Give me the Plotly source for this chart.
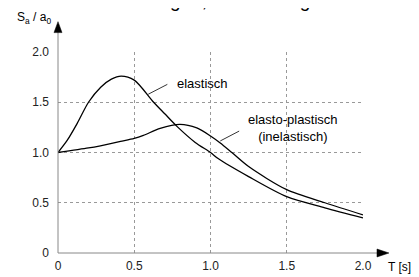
import plotly.graph_objects as go

# Data
T_elastic = [0.0, 0.06, 0.126, 0.2, 0.28, 0.35, 0.414, 0.5, 0.627, 0.7, 0.78, 0.9, 1.0, 1.05, 1.25, 1.5, 1.75, 2.0]
S_elastic = [1.0, 1.12, 1.29, 1.5, 1.65, 1.73, 1.76, 1.72, 1.50, 1.385, 1.26, 1.10, 1.0, 0.94, 0.76, 0.56, 0.45, 0.35]

T_inelastic = [0.0, 0.2, 0.278, 0.41, 0.5, 0.56, 0.67, 0.80, 0.91, 1.0, 1.064, 1.14, 1.25, 1.5, 1.75, 2.0]
S_inelastic = [1.0, 1.045, 1.067, 1.11, 1.14, 1.17, 1.24, 1.28, 1.245, 1.165, 1.095, 1.0, 0.86, 0.63, 0.50, 0.38]

x_ticks = [0, 0.5, 1.0, 1.5, 2.0]
x_tick_labels = ["0", "0.5", "1.0", "1.5", "2.0"]
y_ticks = [0, 0.5, 1.0, 1.5, 2.0]
y_tick_labels = ["0", "0.5", "1.0", "1.5", "2.0"]

FONT = "Liberation Sans, Arial, sans-serif"

fig = go.Figure()
fig.add_trace(go.Scatter(x=T_elastic, y=S_elastic, mode="lines",
                         line=dict(color="black", width=1.3, shape="spline", smoothing=0.8),
                         name="elastisch", showlegend=False, cliponaxis=False))
fig.add_trace(go.Scatter(x=T_inelastic, y=S_inelastic, mode="lines",
                         line=dict(color="black", width=1.3, shape="spline", smoothing=0.8),
                         name="elasto-plastisch", showlegend=False, cliponaxis=False))

# page offset (browser body margin) compensation
OFF = 8
VW, VH = 419, 277
W, H = VW - OFF, VH - OFF
PL, PR, PT, PB = 57.5, 363.0, 51.5, 253.5   # plot area in viewport pixels
L, R, TOP, B = PL - OFF, VW - PR, PT - OFF, VH - PB
pw = PR - PL
ph = PB - PT

def px2paper_x(px):
    return (px - PL) / pw

def px2paper_y(py):
    return (PB - py) / ph

shapes = []
# axis lines (gray)
shapes.append(dict(type="line", xref="paper", yref="paper", x0=0, y0=0,
                   x1=px2paper_x(379), y1=0, line=dict(color="#888888", width=1)))
shapes.append(dict(type="line", xref="paper", yref="paper", x0=0, y0=0,
                   x1=0, y1=px2paper_y(31), line=dict(color="#888888", width=1)))
# arrowheads (black)
ax0, ax1, ay = px2paper_x(377), px2paper_x(389), px2paper_y(253.5)
dh = 4 / ph
shapes.append(dict(type="path", xref="paper", yref="paper",
                   path=f"M {ax0} {ay-dh} L {ax1} {ay} L {ax0} {ay+dh} Z",
                   fillcolor="black", line=dict(color="black", width=0.5)))
yx = px2paper_x(57.5)
y0p, y1p = px2paper_y(32), px2paper_y(21)
dw = 4 / pw
shapes.append(dict(type="path", xref="paper", yref="paper",
                   path=f"M {yx-dw} {y0p} L {yx} {y1p} L {yx+dw} {y0p} Z",
                   fillcolor="black", line=dict(color="black", width=0.5)))
# leader lines
shapes.append(dict(type="line", xref="x", yref="y", x0=0.592, y0=1.58, x1=0.717, y1=1.678,
                   line=dict(color="black", width=0.8)))
shapes.append(dict(type="line", xref="x", yref="y", x0=1.064, y0=1.115, x1=1.188, y1=1.213,
                   line=dict(color="black", width=0.8)))

annotations = [
    dict(text="elastisch", x=0.77, y=1.69, xref="x", yref="y", xanchor="left", yanchor="middle",
         showarrow=False, font=dict(family=FONT, size=13, color="black")),
    dict(text="elasto-plastisch<br>(inelastisch)", x=1.54, y=1.245, xref="x", yref="y",
         xanchor="center", yanchor="middle", showarrow=False,
         font=dict(family=FONT, size=13, color="black")),
    dict(text="S<sub>a</sub> / a<sub>0</sub>", x=px2paper_x(14), y=px2paper_y(17), xref="paper", yref="paper",
         xanchor="left", yanchor="middle", showarrow=False,
         font=dict(family=FONT, size=12, color="black")),
    dict(text="T [s]", x=px2paper_x(412), y=px2paper_y(268), xref="paper", yref="paper",
         xanchor="right", yanchor="middle", showarrow=False, borderpad=0,
         font=dict(family=FONT, size=12, color="black")),
    dict(text="Belastungen, Verformung", x=px2paper_x(203), y=px2paper_y(0), xref="paper", yref="paper",
         xanchor="center", yanchor="middle", showarrow=False,
         font=dict(family=FONT, size=19, color="black")),
]

fig.update_layout(
    width=W, height=H,
    margin=dict(l=L, r=R, t=TOP, b=B, pad=0, autoexpand=False),
    paper_bgcolor="white", plot_bgcolor="white",
    font=dict(family=FONT, size=12, color="black"),
    shapes=shapes, annotations=annotations,
    xaxis=dict(range=[0, 2.0], tickvals=x_ticks, ticktext=x_tick_labels, automargin=False,
               showgrid=True, gridcolor="#999999", griddash="dot", gridwidth=1,
               zeroline=False, showline=False, ticks="", ticklabelstandoff=4,
               tickfont=dict(family=FONT, size=12, color="#222222")),
    yaxis=dict(range=[0, 2.0], tickvals=y_ticks, ticktext=y_tick_labels, automargin=False,
               showgrid=True, gridcolor="#999999", griddash="dot", gridwidth=1,
               zeroline=False, showline=False, ticks="", ticklabelstandoff=8,
               tickfont=dict(family=FONT, size=12, color="#222222")),
)

fig.write_html("out.html")
